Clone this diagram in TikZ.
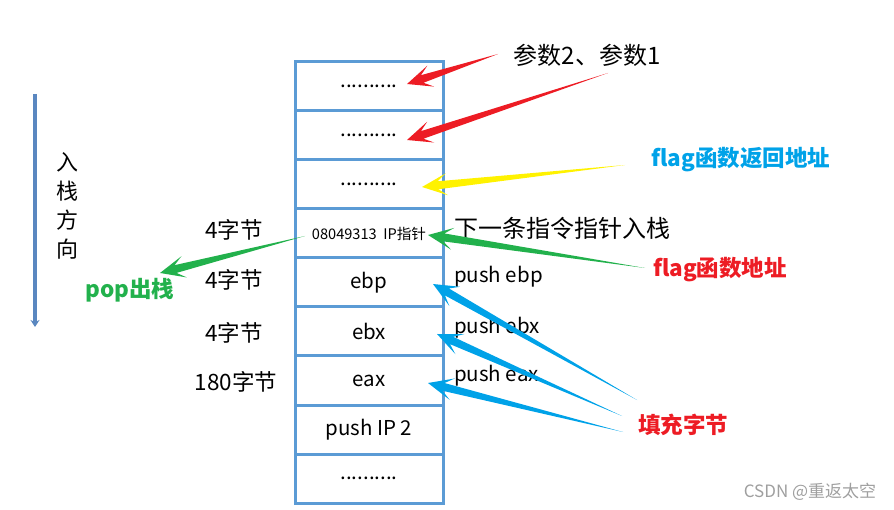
\documentclass[tikz,border=0pt]{standalone}
\usepackage{fontspec}
\setmainfont{Noto Sans CJK SC}
\usepackage{tikz}
\usetikzlibrary{positioning, calc, arrows.meta}
\definecolor{boxblue}{HTML}{5B9BD5}
\definecolor{dirblue}{HTML}{5A87C0}
\definecolor{pptred}{HTML}{ED1C24}
\definecolor{pptyellow}{HTML}{FFF200}
\definecolor{pptgreen}{HTML}{22B14C}
\definecolor{pptblue}{HTML}{00A2E8}
\tikzset{
  cell/.style={rectangle, draw=boxblue, line width=3pt, outer sep=0pt, inner sep=0pt, minimum width=148pt, minimum height=49pt, font=\fontsize{20.5}{20.5}\selectfont},
  note/.style={inner sep=0pt, font=\fontsize{22.5}{22.5}\selectfont},
  tag/.style={inner sep=0pt, font=\fontsize{22.5}{22.5}\selectfont\bfseries},
}
% tapered block arrow: colour, tail, tip
\newcommand\taper[3]{%
  \fill[#1] (#2) -- ($(#3)!16pt!(#2)!4pt!90:(#2)$) -- ($(#3)!25pt!(#2)!11pt!90:(#2)$) -- (#3)
    -- ($(#3)!25pt!(#2)!11pt!-90:(#2)$) -- ($(#3)!16pt!(#2)!4pt!-90:(#2)$) -- cycle;}

\begin{document}
\begin{tikzpicture}[x=1pt, y=-1pt]
  \useasboundingbox (0,0) rectangle (894,510);

  % Stack cells
  \node[cell] (c1) at (369,86.5) {..........};
  \node[cell, below=0pt of c1] (c2) {..........};
  \node[cell, below=0pt of c2] (c3) {..........};
  \node[cell, below=0pt of c3, font=\fontsize{14.6}{14.6}\selectfont] (c4) {08049313\ \ IP指针};
  \node[cell, below=0pt of c4] (c5) {ebp};
  \node[cell, below=0pt of c5] (c6) {ebx};
  \node[cell, below=0pt of c6] (c7) {eax};
  \node[cell, below=0pt of c7] (c8) {push IP 2};
  \node[cell, below=0pt of c8] (c9) {..........};

  % Stack direction
  \coordinate (dtop) at (35,94);
  \coordinate (dbot) at (35,327);
  \draw[dirblue, line width=3.5pt, -{Stealth[length=7pt, width=9pt]}] (dtop) -- (dbot);
  \node[note, align=center, font=\fontsize{22}{29}\selectfont] (dir) at (67,206) {入\\栈\\方\\向};

  % Sizes
  \node[note] (s4) at (234,230) {4字节};
  \node[note] (s5) at (234,280) {4字节};
  \node[note] (s6) at (234,333) {4字节};
  \node[note] (s7) at (236,382) {180字节};

  % Pushes
  \node[note, anchor=west, font=\fontsize{20.5}{20.5}\selectfont] (p5) at (454,277) {push ebp};
  \node[note, anchor=west, font=\fontsize{20.5}{20.5}\selectfont] (p6) at (454,328) {push ebx};
  \node[note, anchor=west, font=\fontsize{20.5}{20.5}\selectfont] (p7) at (454,376) {push eax};
  \node[note, anchor=west, font=\fontsize{24}{24}\selectfont] (next) at (454,228) {下一条指令指针入栈};

  % Callouts
  \node[note, font=\fontsize{24}{24}\selectfont] (args) at (587,55) {参数2、参数1};
  \node[tag, text=pptblue] (ret) at (741,160) {flag函数返回地址};
  \node[tag, text=pptred] (faddr) at (720,270) {flag函数地址};
  \node[tag, text=pptred] (pad) at (683,425) {填充字节};
  \node[tag, text=pptgreen] (pop) at (130,290) {pop出栈};

  % Arrow ends
  \coordinate (r1) at (498,54);   \coordinate (r1t) at (407,84);
  \coordinate (r2) at (608,73);   \coordinate (r2t) at (407,140);
  \coordinate (y1) at (625,165);  \coordinate (y1t) at (422,187);
  \coordinate (g1) at (645,268);  \coordinate (g1t) at (428,235);
  \coordinate (g2) at (305,236);  \coordinate (g2t) at (160,273);
  \coordinate (b1) at (637,400);  \coordinate (b1t) at (433,284);
  \coordinate (b2) at (622,416);  \coordinate (b2t) at (437,334);
  \coordinate (b3) at (623,432);  \coordinate (b3t) at (428,383);

  \taper{pptred}{r1}{r1t}
  \taper{pptred}{r2}{r2t}
  \taper{pptyellow}{y1}{y1t}
  \taper{pptgreen}{g1}{g1t}
  \taper{pptgreen}{g2}{g2t}
  \taper{pptblue}{b1}{b1t}
  \taper{pptblue}{b2}{b2t}
  \taper{pptblue}{b3}{b3t}

  \node[inner sep=0pt, text=gray!75, font=\fontsize{17}{17}\selectfont] (wm) at (810,492) {CSDN @重返太空};
\end{tikzpicture}
\end{document}
